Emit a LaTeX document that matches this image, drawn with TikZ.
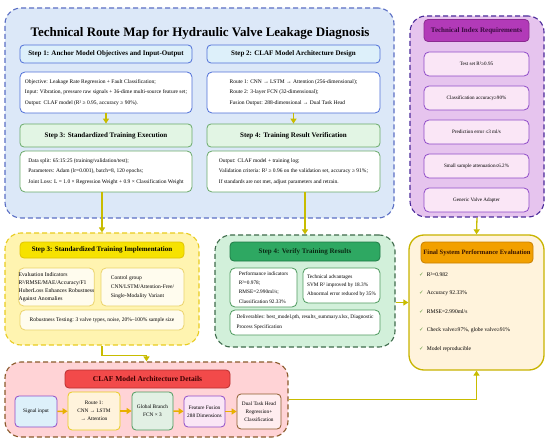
\documentclass[tikz,border=0pt]{standalone}
\usepackage{fontspec}
\setmainfont{Liberation Serif}
\newfontfamily\symfont{DejaVu Sans}
\usetikzlibrary{arrows.meta}
\definecolor{bluereg}{HTML}{DCE8F8}
\definecolor{blueline}{HTML}{5B6FC4}
\definecolor{bluehdr}{HTML}{DDF0FA}
\definecolor{bluebox}{HTML}{4F6FD8}
\definecolor{greenhdr}{HTML}{E2F5E4}
\definecolor{greenbox}{HTML}{6AAA6A}
\definecolor{arrowc}{HTML}{C8BC00}
\definecolor{purreg}{HTML}{E6C4EE}
\definecolor{purline}{HTML}{4B2A9A}
\definecolor{purhdr}{HTML}{B23AB8}
\definecolor{purhdrline}{HTML}{8A2A90}
\definecolor{purtext}{HTML}{3A0A40}
\definecolor{puritem}{HTML}{FAE6F6}
\definecolor{puritemline}{HTML}{8F4CC8}
\definecolor{finfill}{HTML}{FFF3DC}
\definecolor{finline}{HTML}{C8B400}
\definecolor{finhdr}{HTML}{F2A000}
\definecolor{finhdrline}{HTML}{C88000}
\definecolor{fintext}{HTML}{3A1500}
\definecolor{chkc}{HTML}{5E9A3A}
\definecolor{yelreg}{HTML}{FFF4B0}
\definecolor{yelline}{HTML}{E8CC20}
\definecolor{yelhdr}{HTML}{F6E200}
\definecolor{yelhdrline}{HTML}{E0C400}
\definecolor{yelbox}{HTML}{FFFCEE}
\definecolor{yelboxline}{HTML}{EBD36A}
\definecolor{grnreg}{HTML}{D2F0DA}
\definecolor{grnline}{HTML}{3F6B4C}
\definecolor{grnhdr}{HTML}{2EA862}
\definecolor{grnhdrline}{HTML}{1F7A45}
\definecolor{grntext}{HTML}{0A2A14}
\definecolor{grnboxline}{HTML}{4E9A5E}
\definecolor{pnkreg}{HTML}{FFD3D6}
\definecolor{pnkline}{HTML}{8B5A2B}
\definecolor{pnkhdr}{HTML}{F24A4A}
\definecolor{pnkhdrline}{HTML}{B83030}
\definecolor{pnktext}{HTML}{3A0000}
\definecolor{pipearrow}{HTML}{E8B000}
\begin{document}
\begin{tikzpicture}[x=1pt,y=-1pt,
  region/.style={draw, dash pattern=on 5pt off 3pt, line width=1.1pt, rounded corners=16pt, inner sep=0pt},
  hdr/.style={draw, rounded corners=4pt, line width=0.8pt, inner sep=0pt, font=\bfseries\fontsize{7}{8}\selectfont},
  cbox/.style={draw, rounded corners=5pt, line width=0.8pt, inner sep=0pt, align=left, font=\fontsize{5.5}{10.5}\selectfont},
  pitem/.style={draw=puritemline, fill=puritem, rounded corners=5pt, line width=0.8pt, inner sep=0pt, minimum width=105pt, minimum height=24pt, font=\fontsize{5.1}{6}\selectfont},
  chk/.style={anchor=west, inner sep=0pt, font=\fontsize{5.6}{6}\selectfont},
  pipe/.style={draw, rounded corners=4pt, line width=0.8pt, inner sep=0pt, align=center, font=\fontsize{5.3}{8}\selectfont},
  arr/.style={draw=arrowc, line width=1.3pt, -{Triangle[length=5pt,width=6pt]}},
  parr/.style={draw=pipearrow, line width=1.5pt, -{Triangle[length=5pt,width=6pt]}}
]
\useasboundingbox (0,0) rectangle (550,444);

% ---------------- blue region ----------------
\node[region, draw=blueline, fill=bluereg, minimum width=389pt, minimum height=210pt] (breg) at (199.5,113) {};
\node[inner sep=0pt, font=\bfseries\fontsize{13}{15}\selectfont] (title) at (200,33) {Technical Route Map for Hydraulic Valve Leakage Diagnosis};

\node[hdr, draw=bluebox, fill=bluehdr, minimum width=172pt, minimum height=18pt] (s1h) at (106,54) {Step 1: Anchor Model Objectives and Input-Output};
\node[cbox, draw=bluebox, fill=white, minimum width=172pt, minimum height=41pt] (s1c) at (106,92.5) {Objective: Leakage Rate Regression + Fault Classification;\\Input: Vibration, pressure raw signals + 36-dime multi-source feature set;\\Output: CLAF model (R² ≥ 0.95, accuracy ≥ 90\%).};

\node[hdr, draw=bluebox, fill=bluehdr, minimum width=173pt, minimum height=18pt] (s2h) at (293.5,54) {Step 2: CLAF Model Architecture Design};
\node[cbox, draw=bluebox, fill=white, minimum width=173pt, minimum height=41pt] (s2c) at (293.5,92.5) {Route 1: CNN → LSTM → Attention (256-dimensional);\\Route 2: 3-layer FCN (32-dimensional);\\Fusion Output: 288-dimensional → Dual Task Head};

\node[hdr, draw=greenbox, fill=greenhdr, minimum width=172pt, minimum height=23pt] (s3h) at (106,135.5) {Step 3: Standardized Training Execution};
\node[cbox, draw=greenbox, fill=white, minimum width=172pt, minimum height=41pt] (s3c) at (106,171.5) {Data split: 65:15:25 (training/validation/test);\\Parameters: Adam (lr=0.001), batch=8, 120 epochs;\\Joint Loss: L = 1.0 × Regression Weight + 0.9 × Classification Weight};

\node[hdr, draw=greenbox, fill=greenhdr, minimum width=173pt, minimum height=23pt] (s4h) at (293.5,135.5) {Step 4: Training Result Verification};
\node[cbox, draw=greenbox, fill=white, minimum width=173pt, minimum height=41pt] (s4c) at (293.5,171.5) {Output: CLAF model + training log;\\Validation criteria: R² ≥ 0.96 on the validation set, accuracy ≥ 91\%;\\If standards are not met, adjust parameters and retrain.};

% ---------------- purple region ----------------
\node[region, draw=purline, fill=purreg, minimum width=134pt, minimum height=201pt] (preq) at (477,116.5) {};
\node[hdr, draw=purhdrline, fill=purhdr, text=purtext, minimum width=105pt, minimum height=22pt, font=\bfseries\fontsize{7}{8}\selectfont] (ph) at (476.5,30.5) {Technical Index Requirements};
\node[pitem] (pi1) at (476.5,64) {Test set R²≥0.95};
\node[pitem] (pi2) at (476.5,98) {Classification accuracy≥90\%};
\node[pitem] (pi3) at (476.5,132) {Prediction error ≤3 ml/s};
\node[pitem] (pi4) at (476.5,166) {Small sample attenuation≤6.2\%};
\node[pitem] (pi5) at (476.5,200) {Generic Valve Adapter};

% ---------------- final box ----------------
\node[draw=finline, fill=finfill, line width=1.3pt, rounded corners=15pt, inner sep=0pt, minimum width=135pt, minimum height=135pt] (fin) at (476.5,302.5) {};
\node[hdr, draw=finhdrline, fill=finhdr, text=fintext, minimum width=112pt, minimum height=21pt, font=\bfseries\fontsize{6.6}{8}\selectfont] (fh) at (477,252.5) {Final System Performance Evaluation};
\node[chk] (f1) at (419,275) {{\color{chkc}\symfont\fontsize{5.5}{6}\selectfont ✓}\hspace{3pt}R²=0.982};
\node[chk] (f2) at (419,293.5) {{\color{chkc}\symfont\fontsize{5.5}{6}\selectfont ✓}\hspace{3pt}Accuracy 92.33\%};
\node[chk] (f3) at (419,312) {{\color{chkc}\symfont\fontsize{5.5}{6}\selectfont ✓}\hspace{3pt}RMSE=2.990ml/s};
\node[chk] (f4) at (419,330.5) {{\color{chkc}\symfont\fontsize{5.5}{6}\selectfont ✓}\hspace{3pt}Check valve≥97\%, globe valve≥91\%};
\node[chk] (f5) at (419,349) {{\color{chkc}\symfont\fontsize{5.5}{6}\selectfont ✓}\hspace{3pt}Model reproducible};

% ---------------- yellow region ----------------
\node[region, draw=yelline, fill=yelreg, minimum width=194pt, minimum height=112pt] (yreg) at (102,289) {};
\node[hdr, draw=yelhdrline, fill=yelhdr, minimum width=164pt, minimum height=16pt] (yh) at (102,250) {Step 3: Standardized Training Implementation};
\node[cbox, draw=yelboxline, fill=yelbox, minimum width=73pt, minimum height=38pt, font=\fontsize{5.7}{7.8}\selectfont] (yl) at (56.5,287) {Evaluation Indicators\\R²/RMSE/MAE/Accuracy/F1\\HuberLoss Enhances Robustness\\Against Anomalies};
\node[cbox, draw=yelboxline, fill=yelbox, minimum width=83pt, minimum height=38pt, font=\fontsize{5.5}{9}\selectfont] (yr) at (142.5,287) {Control group\\CNN/LSTM/Attention-Free/\\Single-Modality Variant};
\node[cbox, draw=yelboxline, fill=yelbox, minimum width=164pt, minimum height=20pt, font=\fontsize{5.5}{7}\selectfont] (yb) at (102,320) {Robustness Testing: 3 valve types, noise, 20\%–100\% sample size};

% ---------------- green region ----------------
\node[region, draw=grnline, fill=grnreg, minimum width=180pt, minimum height=112pt] (greg) at (305,291) {};
\node[hdr, draw=grnhdrline, fill=grnhdr, text=grntext, minimum width=150pt, minimum height=19pt] (gh) at (305,251.5) {Step 4: Verify Training Results};
\node[cbox, draw=grnboxline, fill=white, minimum width=67pt, minimum height=39pt, font=\fontsize{5.3}{9.2}\selectfont] (gl) at (263.5,287.5) {Performance indicators\\R²=0.978;\\RMSE=2.990ml/s;\\Classification 92.33\%};
\node[cbox, draw=grnboxline, fill=white, minimum width=77pt, minimum height=35pt, font=\fontsize{5.3}{8.6}\selectfont] (gr) at (341.5,285.5) {Technical advantages\\SVM R² improved by 18.3\%\\Abnormal error reduced by 35\%};
\node[cbox, draw=grnboxline, fill=white, minimum width=150pt, minimum height=25pt, font=\fontsize{5.3}{10}\selectfont] (gb) at (305,322.5) {Deliverables: best\_model.pth, results\_summary.xlsx, Diagnostic\\Process Specification};

% ---------------- pink region ----------------
\node[region, draw=pnkline, fill=pnkreg, minimum width=283pt, minimum height=75pt] (preg) at (146.5,399.5) {};
\node[hdr, draw=pnkhdrline, fill=pnkhdr, text=pnktext, minimum width=165pt, minimum height=18pt, font=\bfseries\fontsize{7.5}{9}\selectfont] (pkh) at (147.5,379) {CLAF Model Architecture Details};
\node[pipe, draw=puritemline, fill=bluehdr, minimum width=42pt, minimum height=31pt] (p1) at (36,411.5) {Signal input};
\node[pipe, draw=yelline, fill=finfill, minimum width=52pt, minimum height=38pt] (p2) at (94,411) {Route 1:\\CNN → LSTM\\→ Attention};
\node[pipe, draw=grnboxline, fill=greenhdr!70!grnboxline!40, minimum width=41pt, minimum height=38pt] (p3) at (152.5,411) {Global Branch\\FCN × 3};
\node[pipe, draw=puritemline, fill=puritem, minimum width=41pt, minimum height=31pt] (p4) at (204.5,411.5) {Feature Fusion\\288 Dimensions};
\node[pipe, draw=pnkline, fill=pnkreg!40, minimum width=44pt, minimum height=35pt] (p5) at (259,411.5) {Dual Task Head\\Regression+\\Classification};

% ---------------- connectors ----------------
\draw[arr] (s1c.south) -- (s3h.north);
\draw[arr] (s2c.south) -- (s4h.north);
\draw[arr] (s3c.south -| yreg.north) -- (yreg.north);
\draw[arr] (s4c.south -| greg.north) -- (greg.north);
\draw[arr] (preq.south) -- (fin.north);
\draw[arr] (greg.east |- fin.west) -- (fin.west);
\draw[arr] (yreg.south) -- ++(0,10) -| (preg.north);
\draw[arr] (preg.east) -| (fin.south);
\draw[parr] (p1) -- (p2);
\draw[parr] (p2) -- (p3);
\draw[parr] (p3) -- (p4);
\draw[parr] (p4) -- (p5);
\end{tikzpicture}
\end{document}
